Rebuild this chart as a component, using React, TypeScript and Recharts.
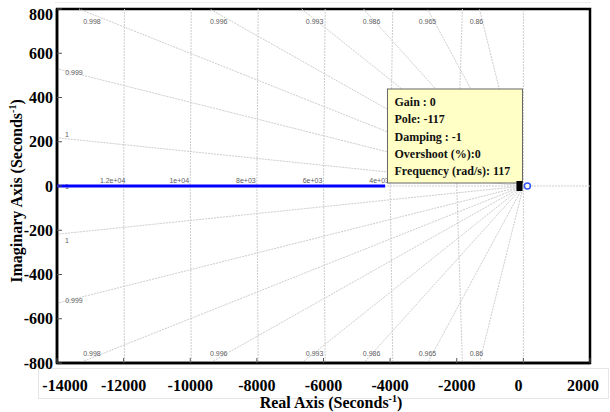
import { ComposedChart, XAxis, YAxis, ReferenceLine, ReferenceArea, Scatter, ReferenceDot } from 'recharts';

// axis ticks
const xTicks = [-14000, -12000, -10000, -8000, -6000, -4000, -2000, 0, 2000];
const yTicks = [-800, -600, -400, -200, 0, 200, 400, 600, 800];

// damping rays (sgrid) - end point of each ray on the box edge, upper half
const dampingLabels = ['1', '0.999', '0.998', '0.996', '0.993', '0.986', '0.965', '0.86'];
const rayEndX = [-14000, -14000, -13340, -9414, -6656, -4797, -2878, -1319];
const rayEndY = [218, 530, 800, 800, 800, 800, 800, 800];
const dampLabelX = [-13700, -13490, -12951, -9144, -6266, -4557, -2878, -1409];
const dampLabelYTop = [232, 514, 745, 745, 745, 745, 745, 745];
const dampLabelYBottom = [-245, -518, -755, -755, -755, -755, -755, -755];

// natural frequency circles
const wnValues = [12000, 10000, 8000, 6000, 4000, 2000];
const wnEdgeX = [-11975, -9970, -7960, -5950, -3920, -1830];
const wnLabels = ['1.2e+04', '1e+04', '8e+03', '6e+03', '4e+03', '2e+03'];
const wnLabelX = [-12330, -10330, -8330, -6330, -4330, -2330];
const wnLabelY = 27;

// root locus branch
const locusX = [-14000, -4150];
const locusY = [0, 0];
const poleX = -117;
const zeroX = 120;

const tipLines = ['Gain : 0', 'Pole: -117', 'Damping : -1', 'Overshoot (%):0', 'Frequency (rad/s): 117'];

const gridStroke = '#cdcdcd';
const serif = '"Liberation Serif", "Times New Roman", serif';
const sans = '"Liberation Sans", Arial, sans-serif';

const locusData = locusX.map((x, i) => ({ x, y: locusY[i] }));
const labelData = [
  ...dampingLabels.map((t, i) => ({ x: dampLabelX[i], y: dampLabelYTop[i], t })),
  ...dampingLabels.map((t, i) => ({ x: dampLabelX[i], y: dampLabelYBottom[i], t })),
  { x: -13700, y: -4, t: '1' },
  ...wnLabels.map((t, i) => ({ x: wnLabelX[i], y: wnLabelY, t })),
];

// small nudges so the end labels sit like the original
const xLabelShift: Record<number, number> = { [-14000]: 8, [0]: -5, [2000]: -7 };

const BottomTick = (p: any) => (
  <g>
    <line x1={p.x} x2={p.x} y1={p.y} y2={p.y - 5} stroke="#555" />
    <text x={p.x + (xLabelShift[p.payload.value] || 0)} y={p.y + 22} textAnchor="middle" dominantBaseline="central" fontFamily={serif} fontWeight="bold" fontSize={16} fill="#000">
      {p.payload.value}
    </text>
  </g>
);

const LeftTick = (p: any) => (
  <g>
    <line x1={p.x} x2={p.x + 5} y1={p.y} y2={p.y} stroke="#555" />
    <text x={p.x - 4} y={p.y + (p.payload.value === 800 ? 5 : 0)} textAnchor="end" dominantBaseline="central" fontFamily={serif} fontWeight="bold" fontSize={16} fill="#000">
      {p.payload.value}
    </text>
  </g>
);

const TopTick = (p: any) => <line x1={p.x} x2={p.x} y1={p.y} y2={p.y + 5} stroke="#555" />;
const RightTick = (p: any) => <line x1={p.x} x2={p.x - 5} y1={p.y} y2={p.y} stroke="#555" />;

const TextMark = (p: any) => (
  <text x={p.cx} y={p.cy} textAnchor="middle" dominantBaseline="central" fontFamily={sans} fontSize={7} fill="#606060">
    {p.payload.t}
  </text>
);

const PoleTip = (p: any) => {
  const bx = p.cx + 3 - 135;
  const by = p.cy - 3 - 94;
  return (
    <g>
      <rect x={bx} y={by} width={135} height={94} fill="#ffffc6" stroke="#666" />
      {tipLines.map((l, i) => (
        <text key={i} x={bx + 7} y={by + 13 + i * 17.3} dominantBaseline="central" fontFamily={serif} fontWeight="bold" fontSize={12} fill="#111">
          {l}
        </text>
      ))}
      <rect x={p.cx - 3} y={p.cy - 5} width={6} height={10} fill="#000" />
    </g>
  );
};

const sup = { fontSize: 10, position: 'relative' as const, top: -6 };

export default function App() {
  return (
    <div style={{ position: 'absolute', left: 0, top: 0, width: 610, height: 412, background: '#fff' }}>
      <div style={{ position: 'absolute', left: 38, top: 368, width: 571, height: 31, border: '1px solid #e6e6e6', boxSizing: 'border-box' }} />
      <div style={{ position: 'absolute', left: 55, top: 2, width: 536, height: 1, background: '#eeeeee' }} />
      <ComposedChart width={610} height={412} margin={{ top: 9, right: 20, left: 0, bottom: 0 }} style={{ position: 'absolute', left: 0, top: 0 }}>
        <XAxis type="number" dataKey="x" domain={[-14000, 2000]} ticks={xTicks} interval={0} height={49}
          tickLine={false} tickSize={0} tickMargin={0} tick={BottomTick} axisLine={{ stroke: '#000', strokeWidth: 2.5 }} />
        <XAxis xAxisId="top" orientation="top" type="number" dataKey="x" domain={[-14000, 2000]} ticks={xTicks} interval={0} height={0}
          tickLine={false} tickSize={0} tickMargin={0} tick={TopTick} axisLine={{ stroke: '#000', strokeWidth: 2.5 }} />
        <YAxis type="number" dataKey="y" domain={[-800, 800]} ticks={yTicks} interval={0} width={57}
          tickLine={false} tickSize={0} tickMargin={0} tick={LeftTick} axisLine={{ stroke: '#000', strokeWidth: 2.5 }} />
        <YAxis yAxisId="right" orientation="right" type="number" dataKey="y" domain={[-800, 800]} ticks={yTicks} interval={0} width={0}
          tickLine={false} tickSize={0} tickMargin={0} tick={RightTick} axisLine={{ stroke: '#000', strokeWidth: 2.5 }} />

        <ReferenceLine y={0} stroke={gridStroke} strokeDasharray="2 1" />
        <ReferenceLine x={0} stroke={gridStroke} strokeDasharray="2 1" />
        {rayEndX.map((ex, i) => (
          <ReferenceLine key={'u' + i} segment={[{ x: 0, y: 0 }, { x: ex, y: rayEndY[i] }]} stroke={gridStroke} strokeDasharray="2 1" />
        ))}
        {rayEndX.map((ex, i) => (
          <ReferenceLine key={'d' + i} segment={[{ x: 0, y: 0 }, { x: ex, y: -rayEndY[i] }]} stroke={gridStroke} strokeDasharray="2 1" />
        ))}
        {wnValues.map((wn, i) => (
          <ReferenceLine key={'wt' + i} segment={[{ x: wnEdgeX[i], y: 800 }, { x: -wn, y: 0 }]} stroke={gridStroke} strokeDasharray="2 1" />
        ))}
        {wnValues.map((wn, i) => (
          <ReferenceLine key={'wb' + i} segment={[{ x: -wn, y: 0 }, { x: wnEdgeX[i], y: -800 }]} stroke={gridStroke} strokeDasharray="2 1" />
        ))}
        <ReferenceArea x1={-14000} x2={2000} y1={-800} y2={800} fill="none" fillOpacity={0} stroke="#000" strokeWidth={2.5} />

        <Scatter data={labelData} shape={TextMark} isAnimationActive={false} />
        <Scatter xAxisId="top" yAxisId="right" data={locusData} shape={() => <g />} isAnimationActive={false} />
        <Scatter data={locusData} line={{ stroke: '#0000ff', strokeWidth: 3 }} lineType="joint" shape={() => <g />} isAnimationActive={false} />
        <ReferenceDot x={zeroX} y={0} r={3} fill="#fff" stroke="#3355ff" strokeWidth={1.5} />
        <ReferenceDot x={poleX} y={0} shape={PoleTip} />
      </ComposedChart>
      <div style={{ position: 'absolute', left: 331, top: 395, transform: 'translateX(-50%)', whiteSpace: 'nowrap', fontFamily: serif, fontWeight: 'bold', fontSize: 16, lineHeight: '16px' }}>
        Real Axis (Seconds<span style={sup}>-1</span>)
      </div>
      <div style={{ position: 'absolute', left: 18, top: 191, transform: 'translate(-50%, -50%) rotate(-90deg)', whiteSpace: 'nowrap', fontFamily: serif, fontWeight: 'bold', fontSize: 16, lineHeight: '16px' }}>
        Imaginary Axis (Seconds<span style={sup}>-1</span>)
      </div>
    </div>
  );
}
